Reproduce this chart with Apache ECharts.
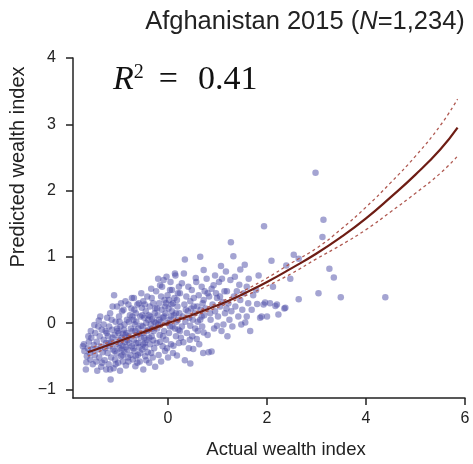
<!DOCTYPE html>
<html>
<head>
<meta charset="utf-8">
<script src="https://cdn.jsdelivr.net/npm/echarts@6/dist/echarts.min.js"></script>
<style>html,body{margin:0;padding:0;background:#fff;}#c{width:473px;height:464px;}</style>
</head>
<body>
<div id="c"></div>
<script>
// ---- data ----
var xTicks = [0, 2, 4, 6];
var yTicks = [-1, 0, 1, 2, 3, 4];
var fitX   = [-1.62,-1.2,-0.8,-0.4,0,0.4,0.8,1.2,1.6,2.0,2.5,3.0,3.5,4.0,4.5,5.0,5.5,5.85];
var fitY   = [-0.44,-0.33,-0.22,-0.11,0.0,0.10,0.21,0.33,0.47,0.62,0.83,1.05,1.30,1.58,1.90,2.24,2.62,2.95];
var upperY = [-0.38,-0.29,-0.19,-0.085,0.025,0.125,0.24,0.365,0.515,0.68,0.91,1.13,1.42,1.75,2.12,2.52,2.98,3.38];
var lowerY = [-0.50,-0.37,-0.25,-0.135,-0.025,0.075,0.18,0.295,0.425,0.56,0.75,0.97,1.18,1.41,1.68,1.96,2.26,2.52];
var scatterPoints = [
[-1.72,-0.35],[-1.70,-0.32],[-1.69,-0.42],[-1.66,-0.70],[-1.65,-0.59],[-1.64,-0.50],[-1.62,-0.38],[-1.60,-0.28],[-1.58,-0.45],[-1.57,-0.55],[-1.55,-0.22],[-1.53,-0.40],[-1.52,-0.62],[-1.50,-0.33],[-1.48,-0.48],[-1.47,-0.15],[-1.45,-0.58],[-1.44,-0.28],[-1.42,-0.40],[-1.41,-0.05],[-1.40,0.04],[-1.39,-0.52],[-1.38,-0.20],[-1.36,-0.35],[-1.35,-0.66],[-1.34,-0.10],[-1.32,-0.44],[-1.30,-0.02],[-1.30,-0.25],[-1.28,-0.56],[-1.27,-0.38],[-1.26,-0.12],[-1.25,-0.70],[-1.25,-0.30],[-1.43,-0.72],[-1.56,-0.12],[-1.61,-0.20],[-1.49,-0.03],[-1.37,0.10],[-1.33,-0.60],
[-1.23,0.08],[-1.22,-0.45],[-1.21,-0.20],[-1.20,-0.62],[-1.19,-0.05],[-1.18,-0.35],[-1.17,0.15],[-1.16,-0.85],[-1.15,-0.52],[-1.14,-0.28],[-1.13,-0.10],[-1.12,0.25],[-1.11,-0.40],[-1.10,-0.68],[-1.09,0.42],[-1.08,-0.18],[-1.07,-0.55],[-1.06,0.02],[-1.05,-0.32],[-1.04,-0.46],[-1.03,0.25],[-1.02,-0.12],[-1.01,-0.60],[-1.00,-0.25],[-0.99,0.10],[-0.98,-0.38],[-0.97,-0.72],[-0.96,-0.05],[-0.95,-0.50],[-0.94,-0.22],[-0.93,0.18],[-0.92,-0.34],[-0.91,-0.58],[-0.90,0.20],[-0.89,-0.10],[-0.88,-0.44],[-0.87,-0.28],[-0.86,0.33],[-0.85,-0.64],[-0.84,-0.15],[-0.83,0.05],[-0.82,-0.40],[-0.81,-0.52],[-0.80,0.28],[-0.79,-0.20],[-0.78,-0.30],[-0.77,0.12],[-0.76,-0.48],[-0.75,-0.08],[-1.19,-0.30],[-1.08,-0.42],[-1.00,-0.15],[-0.94,-0.40],[-0.88,-0.02],[-0.82,-0.26],[-1.12,-0.22],[-1.03,-0.08],[-0.97,-0.30],[-0.91,-0.16],[-0.85,-0.36],[-0.79,0.02],[-1.14,0.05],[-1.06,-0.62],[-0.98,0.02],[-0.92,-0.48],[-0.86,-0.18],[-0.80,-0.58],[-1.24,-0.15],[-1.17,-0.70],[-0.95,0.30],
[-0.74,0.22],[-0.73,0.38],[-0.73,-0.35],[-0.72,-0.12],[-0.71,-0.55],[-0.70,0.05],[-0.69,0.38],[-0.69,-0.25],[-0.68,-0.42],[-0.67,-0.02],[-0.66,-0.65],[-0.65,0.15],[-0.64,-0.30],[-0.63,-0.18],[-0.62,0.28],[-0.61,-0.48],[-0.60,-0.08],[-0.59,0.30],[-0.58,-0.36],[-0.57,-0.58],[-0.56,0.10],[-0.55,-0.22],[-0.54,0.45],[-0.53,0.23],[-0.52,-0.40],[-0.51,-0.05],[-0.50,0.33],[-0.50,-0.70],[-0.49,-0.15],[-0.48,0.08],[-0.47,-0.30],[-0.46,-0.50],[-0.45,0.18],[-0.44,0.00],[-0.43,-0.25],[-0.42,0.40],[-0.41,-0.44],[-0.40,-0.10],[-0.39,0.12],[-0.38,-0.60],[-0.37,0.25],[-0.36,-0.32],[-0.35,-0.02],[-0.34,0.52],[-0.33,-0.20],[-0.32,0.06],[-0.31,-0.52],[-0.30,0.30],[-0.29,-0.12],[-0.28,-0.38],[-0.27,0.15],[-0.26,-0.66],[-0.25,0.00],[-0.72,0.10],[-0.66,-0.12],[-0.60,-0.30],[-0.54,-0.04],[-0.48,-0.22],[-0.42,-0.12],[-0.36,0.10],[-0.30,-0.26],[-0.70,-0.38],[-0.64,0.02],[-0.58,-0.16],[-0.52,0.12],[-0.46,-0.36],[-0.40,0.05],[-0.34,-0.45],[-0.28,0.02],[-0.68,0.20],[-0.62,-0.60],[-0.56,-0.45],[-0.50,-0.32],[-0.44,-0.56],[-0.38,-0.22],[-0.32,-0.08],[-0.26,0.22],[-0.65,-0.50],[-0.47,0.28],[-0.33,0.38],
[-0.24,0.48],[-0.23,-0.30],[-0.22,-0.08],[-0.21,0.12],[-0.20,0.67],[-0.19,-0.48],[-0.18,0.30],[-0.17,-0.18],[-0.16,0.57],[-0.15,0.02],[-0.14,-0.58],[-0.13,0.20],[-0.12,0.55],[-0.11,-0.35],[-0.10,0.08],[-0.09,0.65],[-0.08,-0.12],[-0.07,0.35],[-0.06,-0.42],[-0.05,0.15],[-0.04,-0.25],[-0.03,0.70],[-0.02,0.00],[-0.01,0.42],[0.00,-0.52],[0.01,0.22],[0.02,-0.15],[0.03,0.05],[0.04,0.50],[0.05,0.62],[0.06,-0.32],[0.07,0.28],[0.08,0.50],[0.09,-0.05],[0.10,-0.45],[0.11,-0.34],[0.12,0.12],[0.13,0.38],[0.14,0.75],[0.15,0.72],[0.16,-0.20],[0.17,0.02],[0.18,-0.49],[0.19,0.25],[0.20,0.45],[0.21,-0.10],[0.22,0.55],[0.23,0.15],[0.24,-0.12],[0.24,0.45],[-0.22,0.22],[-0.16,-0.28],[-0.10,-0.20],[-0.04,0.30],[0.02,0.35],[0.08,0.18],[0.14,-0.08],[0.20,0.05],[-0.20,-0.02],[-0.14,0.40],[-0.08,0.10],[-0.02,-0.38],[0.04,-0.05],[0.10,0.30],[0.16,0.15],[0.22,-0.30],[-0.18,0.05],[-0.06,0.25],[0.06,0.10],[0.18,0.35],
[0.26,-0.22],[0.28,0.60],[0.30,0.10],[0.31,-0.29],[0.32,0.75],[0.33,0.28],[0.34,-0.56],[0.34,0.96],[0.35,0.02],[0.37,0.40],[0.38,-0.15],[0.40,0.18],[0.41,0.55],[0.42,-0.38],[0.43,0.08],[0.45,-0.61],[0.45,-0.04],[0.45,0.33],[0.47,0.22],[0.48,0.50],[0.49,-0.20],[0.50,0.05],[0.51,-0.39],[0.52,0.38],[0.54,0.15],[0.55,-0.08],[0.56,0.68],[0.57,0.62],[0.58,-0.24],[0.59,0.25],[0.60,0.02],[0.62,0.42],[0.63,-0.32],[0.65,0.05],[0.65,1.00],[0.66,0.20],[0.68,0.55],[0.69,-0.05],[0.70,0.30],[0.71,-0.45],[0.72,0.35],[0.72,-0.14],[0.72,0.80],[0.73,0.12],[0.74,0.48],[0.28,-0.05],[0.36,0.20],[0.44,-0.25],[0.52,0.25],[0.60,-0.12],[0.68,0.10],
[0.76,0.22],[0.78,0.67],[0.80,-0.18],[0.82,-0.44],[0.83,0.40],[0.85,0.15],[0.86,0.05],[0.88,-0.43],[0.88,0.52],[0.90,0.28],[0.92,0.57],[0.93,-0.08],[0.95,0.18],[0.97,0.45],[0.99,-0.04],[0.99,0.38],[1.01,0.10],[1.03,0.62],[1.05,0.25],[1.07,0.86],[1.08,-0.12],[1.09,0.67],[1.10,0.32],[1.12,-0.02],[1.14,0.48],[1.15,0.15],[1.17,0.78],[1.19,0.48],[1.20,-0.20],[1.22,0.30],[1.24,0.05],[0.80,0.45],[0.95,0.72],[1.05,0.40],[1.18,0.22],
[1.26,0.65],[1.27,1.22],[1.28,0.18],[1.30,-0.05],[1.32,1.01],[1.33,0.40],[1.36,0.25],[1.39,0.48],[1.42,0.10],[1.44,0.58],[1.46,0.35],[1.46,0.81],[1.48,-0.02],[1.50,0.20],[1.53,0.45],[1.56,0.01],[1.59,0.10],[1.59,0.55],[1.62,0.30],[1.63,0.67],[1.66,-0.12],[1.69,0.20],[1.72,0.42],[1.35,0.70],[1.55,0.88],
[1.80,0.29],[1.83,0.72],[1.86,0.08],[1.89,0.10],[1.93,0.28],[1.94,1.46],[1.96,0.31],[2.00,0.10],[2.06,0.30],[2.09,0.94],[2.17,0.26],[2.20,0.28],[2.23,0.13],[1.78,0.50],[2.12,0.55],
[2.35,0.22],[2.37,0.23],[2.39,0.87],[2.47,0.67],[2.54,1.03],[2.64,0.97],[2.64,0.36],[2.98,2.27],[3.04,0.45],[3.12,1.30],[3.14,1.56],[3.26,0.82],[3.35,0.69],[3.49,0.39],[4.39,0.39],[5.89,4.05]
];

function pairs(xs, ys){ return xs.map(function(x,i){ return [x, ys[i]]; }); }
function fmt(v){ return v < 0 ? '\u2212' + Math.abs(v) : String(v); }

var chart = echarts.init(document.getElementById('c'), null, {renderer:'canvas'});
var axisColor = '#222';
var sans = 'Liberation Sans, Arial';
chart.setOption({
  animation: false,
  backgroundColor: '#fff',
  grid: { left: 73, right: 8, top: 58, bottom: 62, containLabel: false },
  xAxis: {
    type: 'value', min: -1.92, max: 6,
    splitLine: { show: false },
    axisLine: { show: true, onZero: false, lineStyle: { color: axisColor, width: 1.5 } },
    axisTick: { show: true, length: 7, customValues: xTicks, lineStyle: { color: axisColor, width: 1.5 } },
    axisLabel: { customValues: xTicks, margin: 13, fontSize: 16, color: '#222', fontFamily: sans, formatter: fmt },
    name: 'Actual wealth index', nameLocation: 'middle', nameGap: 42,
    nameTextStyle: { fontSize: 18.5, color: '#222', fontFamily: sans, padding: [0, 0, 0, 34] }
  },
  yAxis: {
    type: 'value', min: -1.13, max: 4,
    splitLine: { show: false },
    axisLine: { show: true, onZero: false, lineStyle: { color: axisColor, width: 1.5 } },
    axisTick: { show: true, length: 7, customValues: yTicks, lineStyle: { color: axisColor, width: 1.5 } },
    axisLabel: { customValues: yTicks, margin: 17, fontSize: 16, color: '#222', fontFamily: sans, formatter: fmt }
  },
  graphic: [
    { type: 'text', x: 305, y: 22, style: {
        text: '{a|Afghanistan 2015 (}{i|N}{a|=1,234)}', align: 'center', verticalAlign: 'middle',
        rich: { a: { fontSize: 25.5, fontFamily: sans, fill: '#222' },
                i: { fontSize: 25.5, fontStyle: 'italic', fontFamily: sans, fill: '#222' } } } },
    { type: 'text', x: 18, y: 167, rotation: Math.PI / 2, style: {
        text: 'Predicted wealth index', align: 'center', verticalAlign: 'middle',
        fontSize: 20, fontFamily: sans, fill: '#222' } },
    { type: 'text', x: 113, y: 80, style: {
        text: '{r|R}{s|2}{e|=}{n|0.41}', align: 'left', verticalAlign: 'middle',
        rich: { r: { fontSize: 34, fontStyle: 'italic', fontFamily: 'Liberation Serif', fill: '#111' },
                s: { fontSize: 20, fontFamily: 'Liberation Serif', fill: '#111', verticalAlign: 'top' },
                e: { fontSize: 34, fontFamily: 'Liberation Serif', fill: '#111', padding: [0, 20, 0, 15] },
                n: { fontSize: 34, fontFamily: 'Liberation Serif', fill: '#111' } } } }
  ],
  series: [
    { type: 'scatter', data: scatterPoints, symbolSize: 6.5,
      itemStyle: { color: '#4a4aa6', opacity: 0.5 }, silent: true, z: 2 },
    { type: 'line', data: pairs(fitX, upperY), smooth: true, symbol: 'none', silent: true, z: 3,
      lineStyle: { color: '#b05a52', width: 1.3, type: [3, 3] } },
    { type: 'line', data: pairs(fitX, lowerY), smooth: true, symbol: 'none', silent: true, z: 3,
      lineStyle: { color: '#b05a52', width: 1.3, type: [3, 3] } },
    { type: 'line', data: pairs(fitX, fitY), smooth: true, symbol: 'none', silent: true, z: 4,
      lineStyle: { color: '#6e1d14', width: 2.2 } }
  ]
});
</script>
</body>
</html>
